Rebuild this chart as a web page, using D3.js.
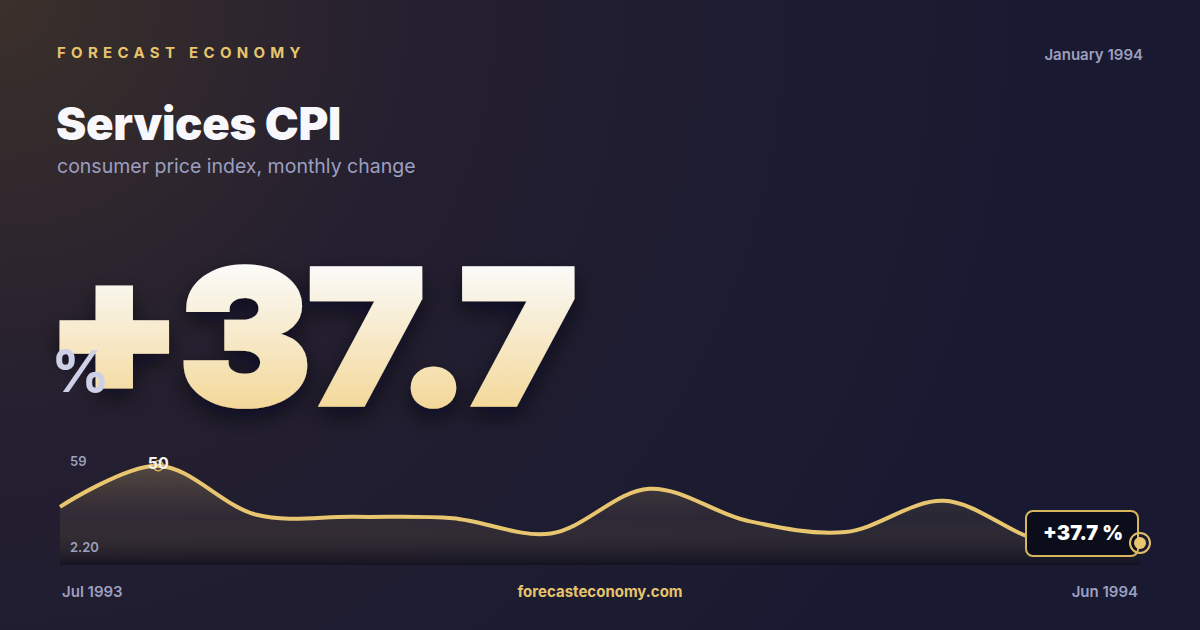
<!DOCTYPE html>
<html><head><meta charset="utf-8">
<script src="https://cdn.jsdelivr.net/npm/d3@7"></script>
<style>
html,body{margin:0;padding:0;background:#191a30;}
svg{display:block;}
text{font-family:Inter,"Noto Sans",sans-serif;}
</style></head>
<body>
<script>
// ---- data ----
const months = ["Jul 1993","Aug 1993","Sep 1993","Oct 1993","Nov 1993","Dec 1993","Jan 1994","Feb 1994","Mar 1994","Apr 1994","May 1994","Jun 1994"];
const values = [30.2, 50, 26.4, 25.4, 24.7, 17.4, 38.9, 23.5, 18.1, 33.1, 13.8, 12.8];
const yTickLabels = ["59", "2.20"];
const yDomain = [2.2, 59];
const headline = "+37.7";
const headlineUnit = "%";
const badgeText = "+37.7 %";
const brand = "FORECAST ECONOMY";
const dateLabel = "January 1994";
const title = "Services CPI";
const subtitle = "consumer price index, monthly change";
const site = "forecasteconomy.com";

const W = 1200, H = 630;
const svg = d3.select("body").append("svg").attr("width", W).attr("height", H);
const defs = svg.append("defs");

// background
const bg = defs.append("radialGradient").attr("id","bgGlow").attr("cx","0").attr("cy","0").attr("r","0.85")
  .attr("gradientTransform","scale(1,1.9)");
bg.append("stop").attr("offset","0").attr("stop-color","#3b302a");
bg.append("stop").attr("offset","0.42").attr("stop-color","#241f30");
bg.append("stop").attr("offset","1").attr("stop-color","#191a31");
svg.append("rect").attr("width",W).attr("height",H).attr("fill","#1a1b32");
svg.append("rect").attr("width",W).attr("height",H).attr("fill","url(#bgGlow)");

// header
svg.append("text").attr("x",57).attr("y",58).text(brand)
  .attr("fill","#e6c46e").attr("font-size",15).attr("font-weight",700).attr("letter-spacing",5.3);
svg.append("text").attr("x",1143).attr("y",60).attr("text-anchor","end").text(dateLabel)
  .attr("fill","#9d9fbd").attr("font-size",15).attr("font-weight",600);
svg.append("text").attr("x",56).attr("y",140).text(title)
  .attr("fill","#f8f8fc").attr("font-size",45.5).attr("font-weight",900).attr("letter-spacing",-0.3);
svg.append("text").attr("x",57).attr("y",173).text(subtitle)
  .attr("fill","#9c9fc0").attr("font-size",19.5).attr("font-weight",400);

// headline number
const hg = defs.append("linearGradient").attr("id","numGrad")
  .attr("gradientUnits","userSpaceOnUse").attr("x1",0).attr("x2",0).attr("y1",255).attr("y2",408);
hg.append("stop").attr("offset","0").attr("stop-color","#fbfbfb");
hg.append("stop").attr("offset","1").attr("stop-color","#f3d899");
const sh = defs.append("filter").attr("id","shadow").attr("x","-10%").attr("y","-20%").attr("width","130%").attr("height","150%");
sh.append("feDropShadow").attr("dx",0).attr("dy",10).attr("stdDeviation",12).attr("flood-color","#05060f").attr("flood-opacity",0.6);
svg.append("g").attr("transform","translate(0,405) scale(1,0.94) translate(0,-405)")
  .append("text").attr("x",46).attr("y",404).text(headline)
  .attr("fill","url(#numGrad)").attr("stroke","url(#numGrad)").attr("stroke-width",6).attr("stroke-linejoin","miter")
  .attr("font-size",197).attr("font-weight",900)
  .attr("textLength",531).attr("lengthAdjust","spacing").attr("filter","url(#shadow)");
svg.append("text").attr("x",51).attr("y",392).text(headlineUnit)
  .attr("fill","#cdd0e6").attr("font-size",58).attr("font-weight",700);

// chart
const x = d3.scalePoint().domain(months).range([60,1140]);
const y = d3.scaleLinear().domain(yDomain).range([565,447]);
const ag = defs.append("linearGradient").attr("id","areaGrad").attr("gradientUnits","userSpaceOnUse")
  .attr("x1",0).attr("x2",0).attr("y1",460).attr("y2",565);
ag.append("stop").attr("offset","0").attr("stop-color","#e6c46e").attr("stop-opacity",0.28);
ag.append("stop").attr("offset","0.55").attr("stop-color","#8a7450").attr("stop-opacity",0.14);
ag.append("stop").attr("offset","1").attr("stop-color","#0b0b16").attr("stop-opacity",0.55);

const data = months.map((m,i)=>({m, v:values[i]}));
const curve = d3.curveCatmullRom.alpha(0.5);
const area = d3.area().x(d=>x(d.m)).y0(565).y1(d=>y(d.v)).curve(curve);
const line = d3.line().x(d=>x(d.m)).y(d=>y(d.v)).curve(curve);
svg.append("path").datum(data).attr("d",area).attr("fill","url(#areaGrad)");
svg.append("path").datum(data).attr("d",line).attr("fill","none").attr("stroke","#e8c56f").attr("stroke-width",4).attr("stroke-linejoin","round");

// y tick labels
svg.append("text").attr("x",70).attr("y",466).text(yTickLabels[0]).attr("fill","#9d9fbd").attr("font-size",13).attr("font-weight",600);
svg.append("text").attr("x",70).attr("y",552).text(yTickLabels[1]).attr("fill","#9d9fbd").attr("font-size",13).attr("font-weight",600);

// peak marker
const maxD = data.reduce((a,b)=>b.v>a.v?b:a);
svg.append("circle").attr("cx",x(maxD.m)).attr("cy",y(maxD.v)).attr("r",5).attr("fill","none").attr("stroke","#d9b55e").attr("stroke-width",1.5);
svg.append("text").attr("x",x(maxD.m)).attr("y",y(maxD.v)+3).attr("text-anchor","middle").text(d3.format("d")(maxD.v))
  .attr("fill","#f4f2ee").attr("font-size",16).attr("font-weight",700);

// last point badge
const last = data[data.length-1];
const lx = x(last.m), ly = y(last.v);
svg.append("rect").attr("x",lx-114).attr("y",ly-32).attr("width",112).attr("height",45).attr("rx",7)
  .attr("fill","#0c0d1a").attr("stroke","#d9b55e").attr("stroke-width",2);
svg.append("text").attr("x",lx-57).attr("y",ly-3).attr("text-anchor","middle").text(badgeText)
  .attr("fill","#ffffff").attr("font-size",20).attr("font-weight",900);
svg.append("circle").attr("cx",lx).attr("cy",ly).attr("r",10).attr("fill","none").attr("stroke","#e0bd66").attr("stroke-width",2);
svg.append("circle").attr("cx",lx).attr("cy",ly).attr("r",6).attr("fill","#e8c56f");

// footer
svg.append("text").attr("x",62).attr("y",597).text(months[0]).attr("fill","#9d9fc0").attr("font-size",15).attr("font-weight",600);
svg.append("text").attr("x",1138).attr("y",597).attr("text-anchor","end").text(months[months.length-1]).attr("fill","#9d9fc0").attr("font-size",15).attr("font-weight",600);
svg.append("text").attr("x",600).attr("y",597).attr("text-anchor","middle").text(site).attr("fill","#e6c46e").attr("font-size",15).attr("font-weight",700);
</script>
</body></html>
